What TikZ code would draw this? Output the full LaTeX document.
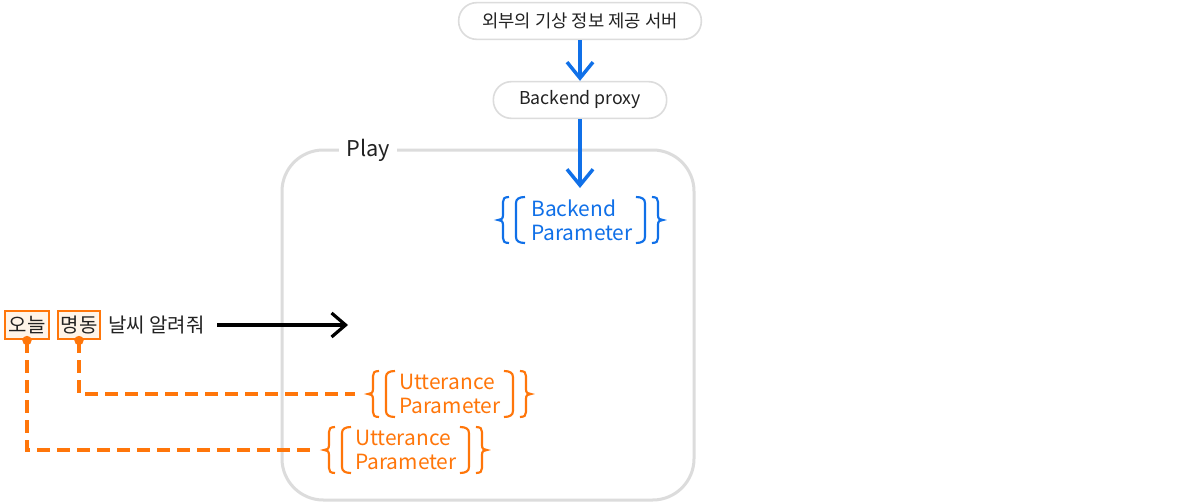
\documentclass[tikz,border=0pt]{standalone}
\usepackage{fontspec}
\setmainfont{Noto Sans CJK KR}
\usetikzlibrary{arrows.meta,calc}
\definecolor{bl}{RGB}{16,112,232}
\definecolor{og}{RGB}{255,118,10}
\definecolor{ogfill}{RGB}{255,244,232}
\definecolor{gr}{RGB}{220,220,220}
\definecolor{tx}{RGB}{34,34,34}
\tikzset{
  pill/.style={draw=gr, line width=1.2pt, rounded corners=13.5pt, text=tx,
    minimum height=27.5pt, inner sep=0pt, font=\fontsize{13.3}{15}\selectfont},
  param/.style={inner sep=0pt, align=left, font=\fontsize{15.7}{18}\selectfont},
  bluearr/.style={draw=bl, line width=2.6pt, -{Straight Barb[length=12pt,width=19.5pt]}},
  blackarr/.style={draw=black, line width=2.4pt, -{Straight Barb[length=10.5pt,width=18pt]}},
  tagbox/.style={draw=og, line width=2.2pt, fill=ogfill, text=tx, inner sep=0pt,
    minimum height=21pt, font=\fontsize{15}{17}\selectfont},
  orangedash/.style={draw=og, line width=2.6pt, dash pattern=on 9.75pt off 5.25pt},
  dotnode/.style={circle, fill=og, inner sep=0pt, minimum size=7pt},
  lbrace/.pic={
    \draw[line width=1.6pt] (11,-23) .. controls (6,-23) and (5,-21) .. (5,-18) -- (5,-5)
      .. controls (5,-1) and (3,0) .. (0,0) .. controls (3,0) and (5,1) .. (5,5) -- (5,18)
      .. controls (5,21) and (6,23) .. (11,23);
    \draw[line width=1.6pt] (27,-23) .. controls (21,-23) and (18,-21) .. (18,-17) -- (18,17)
      .. controls (18,21) and (21,23) .. (27,23);
  },
  rbrace/.pic={
    \draw[line width=1.6pt] (-11,-23) .. controls (-6,-23) and (-5,-21) .. (-5,-18) -- (-5,-5)
      .. controls (-5,-1) and (-3,0) .. (0,0) .. controls (-3,0) and (-5,1) .. (-5,5) -- (-5,18)
      .. controls (-5,21) and (-6,23) .. (-11,23);
    \draw[line width=1.6pt] (-27,-23) .. controls (-21,-23) and (-18,-21) .. (-18,-17) -- (-18,17)
      .. controls (-18,21) and (-21,23) .. (-27,23);
  }
}
\begin{document}
\begin{tikzpicture}[x=0.75pt,y=-0.75pt]
\useasboundingbox[fill=white] (0,0) rectangle (1200,503);

% Play container
\draw[gr, line width=2.25pt, rounded corners=31pt] (282,150) rectangle (694,500);
\node[fill=white, inner xsep=5.5pt, inner ysep=0pt, text=tx, font=\fontsize{16.3}{19}\selectfont] (play) at (368,150) {Play};

% top servers
\node[pill, minimum width=182pt] (server) at (580,21) {외부의 기상 정보 제공 서버};
\node[pill, minimum width=130pt] (proxy) at (580,100) {Backend proxy};
\coordinate (bptop) at (580,188);

% backend parameter
\node[param, text=bl, anchor=west] (bp) at (531,220) {Backend\\Parameter};
\pic[bl] at ($(bp.west)+(-33,0)$) {lbrace};
\pic[bl] at ($(bp.east)+(30,0)$) {rbrace};

\draw[bluearr] (server.south) -- (proxy.north);
\draw[bluearr] (proxy.south) -- (bptop);

% utterance
\node[tagbox, minimum width=33pt] (oneul) at (27,325) {오늘};
\node[tagbox, minimum width=31.5pt] (myeong) at (79,325) {명동};
\node[anchor=west, inner sep=0pt, text=tx, font=\fontsize{15}{17}\selectfont] (msg) at (108,325) {날씨 알려줘};
\coordinate (playin) at (348,325);
\draw[blackarr, shorten <=9pt] (msg.east) -- (playin);

\node[param, text=og, anchor=west] (u1) at (399,394) {Utterance\\Parameter};
\pic[og] at ($(u1.west)+(-31,0)$) {lbrace};
\pic[og] at ($(u1.east)+(30,0)$) {rbrace};
\node[param, text=og, anchor=west] (u2) at (355,450) {Utterance\\Parameter};
\pic[og] at ($(u2.west)+(-31,0)$) {lbrace};
\pic[og] at ($(u2.east)+(30,0)$) {rbrace};

\coordinate (u1in) at ($(u1.west)+(-44,0)$);
\coordinate (u2in) at ($(u2.west)+(-40,0)$);
\draw[orangedash] (myeong.south) |- (u1in);
\draw[orangedash] (oneul.south) |- (u2in);
\node[dotnode] (dot1) at (oneul.south) {};
\node[dotnode] (dot2) at (myeong.south) {};
\end{tikzpicture}
\end{document}
